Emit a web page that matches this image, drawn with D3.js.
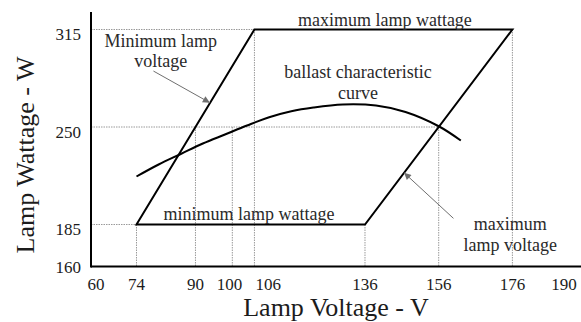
<!DOCTYPE html>
<html>
<head>
<meta charset="utf-8">
<script src="https://cdn.jsdelivr.net/npm/d3@7"></script>
<style>
  html, body { margin: 0; padding: 0; background: #fff; }
  svg { display: block; }
  text { font-family: "Liberation Serif", "Times New Roman", serif; fill: #1c1c1c; }
</style>
</head>
<body>
<svg id="chart" width="581" height="322"></svg>
<script>
// Axis ticks
const xTicks = [60, 74, 90, 100, 106, 136, 156, 176, 190];
const yTicks = [160, 185, 250, 315];

// Operating window (parallelogram) corners: voltage (V) and wattage (W)
const windowV = [74, 106, 176, 136];
const windowW = [185, 315, 315, 185];

// Ballast characteristic curve
const ballastV = [74, 80, 86, 92, 98, 104, 110, 116, 122, 130, 139, 147, 156, 162];
const ballastW = [217, 225, 232, 239, 245, 251, 256.5, 260.5, 263, 265, 264.3, 260, 250.5, 241];

// Dotted reference lines
const guideV = [74, 90, 100, 106, 136, 156, 176];
const guideVTop = [185, 250, 250, 315, 185, 250, 315];
const guideW = [315, 250, 185];
const guideWEnd = [106, 156, 74];

const svg = d3.select("#chart");
const frame = { left: 91, right: 581, top: 12, bottom: 266.5 };

const x = d3.scaleLinear().domain([60, 190]).range([84.9, 564]);
const y = d3.scaleLinear().domain([185, 315]).range([224.5, 29.5]);

const guideColor = "#9a9a9a";

// vertical guides
svg.append("g").selectAll("line")
  .data(guideV.map((v, i) => ({ v, top: guideVTop[i] })))
  .join("line")
  .attr("x1", d => x(d.v)).attr("x2", d => x(d.v))
  .attr("y1", d => y(d.top)).attr("y2", frame.bottom)
  .attr("stroke", guideColor).attr("stroke-width", 1)
  .attr("stroke-dasharray", "1.5,1");

// horizontal guides
svg.append("g").selectAll("line")
  .data(guideW.map((w, i) => ({ w, end: guideWEnd[i] })))
  .join("line")
  .attr("x1", frame.left).attr("x2", d => x(d.end))
  .attr("y1", d => y(d.w)).attr("y2", d => y(d.w))
  .attr("stroke", guideColor).attr("stroke-width", 1)
  .attr("stroke-dasharray", "1.5,1");

// operating window
const windowPts = windowV.map((v, i) => [x(v), y(windowW[i])]);
svg.append("path")
  .attr("d", d3.line()(windowPts) + "Z")
  .attr("fill", "none").attr("stroke", "#000").attr("stroke-width", 2)
  .attr("stroke-linejoin", "miter");

// ballast curve
svg.append("path")
  .attr("d", d3.line().x(d => x(d[0])).y(d => y(d[1])).curve(d3.curveCatmullRom)(ballastV.map((v, i) => [v, ballastW[i]])))
  .attr("fill", "none").attr("stroke", "#000").attr("stroke-width", 2);

// axes frame
svg.append("line").attr("x1", frame.left).attr("x2", frame.left)
  .attr("y1", frame.top).attr("y2", frame.bottom + 1)
  .attr("stroke", "#000").attr("stroke-width", 2);
svg.append("line").attr("x1", frame.left).attr("x2", frame.right)
  .attr("y1", frame.bottom).attr("y2", frame.bottom)
  .attr("stroke", "#000").attr("stroke-width", 2);

// x tick labels (the first one clears the corner, the crowded 100/106 pair is split apart)
const xAnchor = v => v === 100 ? "end" : v === 106 ? "start" : "middle";
const xShift = v => v === 60 ? 11 : v === 100 ? 10 : v === 106 ? 1 : 0;
svg.append("g").selectAll("text")
  .data(xTicks).join("text")
  .attr("x", d => x(d) + xShift(d)).attr("y", 289.5)
  .attr("text-anchor", d => xAnchor(d))
  .attr("font-size", 17)
  .text(d => d);

// y tick labels
svg.append("g").selectAll("text")
  .data(yTicks).join("text")
  .attr("x", 81).attr("y", d => y(d) + 10.5)
  .attr("text-anchor", "end")
  .attr("font-size", 17)
  .text(d => d);

// axis titles
svg.append("text").attr("x", 336).attr("y", 316)
  .attr("text-anchor", "middle").attr("font-size", 26)
  .text("Lamp Voltage - V");
svg.append("text")
  .attr("transform", "translate(34,155) rotate(-90)")
  .attr("text-anchor", "middle").attr("font-size", 26)
  .text("Lamp Wattage - W");

// annotations
const notes = [
  { v: 80.6, w: 303.5, lines: ["Minimum lamp", "voltage"] },
  { v: 134.1, w: 282.5, lines: ["ballast characteristic", "curve"] },
  { v: 141.4, w: 317.3, lines: ["maximum lamp wattage"] },
  { v: 104.5, w: 188, lines: ["minimum lamp wattage"] },
  { v: 175.4, w: 181.3, lines: ["maximum", "lamp voltage"] }
];
notes.forEach(n => {
  const t = svg.append("text")
    .attr("x", x(n.v)).attr("y", y(n.w))
    .attr("text-anchor", "middle").attr("font-size", 18).style("fill", "#2a2a2a");
  n.lines.forEach((s, i) => {
    t.append("tspan").attr("x", x(n.v)).attr("dy", i === 0 ? 0 : 20.5).text(s);
  });
});

// arrows pointing at the voltage limits
const arrowColor = "#6f6f6f";
svg.append("defs").append("marker")
  .attr("id", "head").attr("viewBox", "0 0 10 10")
  .attr("refX", 10).attr("refY", 5)
  .attr("markerWidth", 9).attr("markerHeight", 7)
  .attr("markerUnits", "userSpaceOnUse")
  .attr("orient", "auto")
  .append("path").attr("d", "M0,0L10,5L0,10Z").attr("fill", arrowColor);

const arrows = [
  { from: [78.6, 287.3], to: [93.9, 266.2] },
  { from: [160, 189.1], to: [146.6, 219.5] }
];
svg.append("g").selectAll("line")
  .data(arrows).join("line")
  .attr("x1", d => x(d.from[0])).attr("y1", d => y(d.from[1]))
  .attr("x2", d => x(d.to[0])).attr("y2", d => y(d.to[1]))
  .attr("stroke", arrowColor).attr("stroke-width", 1)
  .attr("marker-end", "url(#head)");
</script>
</body>
</html>
